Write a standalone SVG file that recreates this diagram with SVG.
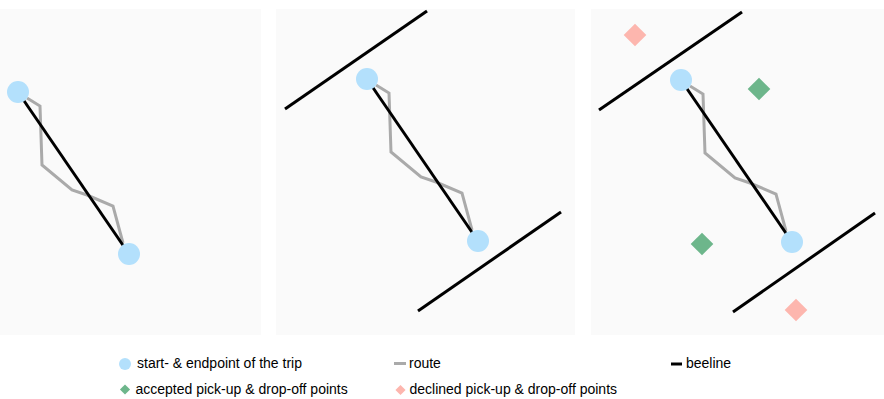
<svg xmlns="http://www.w3.org/2000/svg" width="884" height="399" viewBox="0 0 884 399">
<defs>
<style>
.bg{fill:#fafafa}
.pt{fill:#b3e0fc}
.route{fill:none;stroke:#aaaaaa;stroke-width:3;stroke-linejoin:miter}
.bee{stroke:#000;stroke-width:3;fill:none}
.acc{fill:#6db68b}
.dec{fill:#fdb6ae}
.lbl{font-family:"Liberation Sans",Arial,sans-serif;font-size:14px;fill:#000}
</style>
<g id="trip">
<polyline class="route" points="9,6 22,14 24,73 54,98 69,103 95,114 105,151"/>
<line class="bee" x1="0" y1="0" x2="111" y2="162"/>
<circle class="pt" cx="0" cy="0" r="11"/>
<circle class="pt" cx="111" cy="162" r="11"/>
</g>
</defs>
<g id="panel1">
<rect class="bg" x="0" y="9" width="261" height="326"/>
<use href="#trip" x="18" y="92"/>
</g>
<g id="panel2">
<rect class="bg" x="276" y="9" width="299" height="326"/>
<use href="#trip" x="367" y="79"/>
<line class="bee" x1="285" y1="109" x2="427" y2="11"/>
<line class="bee" x1="418" y1="311" x2="561" y2="212"/>
</g>
<g id="panel3">
<rect class="bg" x="591" y="9" width="293" height="326"/>
<use href="#trip" x="681" y="80"/>
<line class="bee" x1="599" y1="110" x2="742" y2="12"/>
<line class="bee" x1="733" y1="312" x2="875" y2="213"/>
<rect class="dec" x="-8" y="-8" width="16" height="16" transform="translate(635 35) rotate(45)"/>
<rect class="acc" x="-8" y="-8" width="16" height="16" transform="translate(759 89) rotate(45)"/>
<rect class="acc" x="-8" y="-8" width="16" height="16" transform="translate(702 244) rotate(45)"/>
<rect class="dec" x="-8" y="-8" width="16" height="16" transform="translate(796 310) rotate(45)"/>
</g>
<g id="legend">
<circle class="pt" cx="125" cy="364" r="6"/>
<text class="lbl" x="137" y="367.7">start- &amp; endpoint of the trip</text>
<line x1="394" y1="363.5" x2="406" y2="363.5" stroke="#aaaaaa" stroke-width="3"/>
<text class="lbl" x="409" y="367.7">route</text>
<line x1="671" y1="364" x2="682" y2="364" stroke="#000" stroke-width="3"/>
<text class="lbl" x="686" y="368.2">beeline</text>
<rect class="acc" x="-3.6" y="-3.6" width="7.2" height="7.2" transform="translate(125 389.5) rotate(45)"/>
<text class="lbl" x="135.5" y="394.4">accepted pick-up &amp; drop-off points</text>
<rect class="dec" x="-3.6" y="-3.6" width="7.2" height="7.2" transform="translate(400.5 390) rotate(45)"/>
<text class="lbl" x="409.5" y="394.4">declined pick-up &amp; drop-off points</text>
</g>
</svg>
